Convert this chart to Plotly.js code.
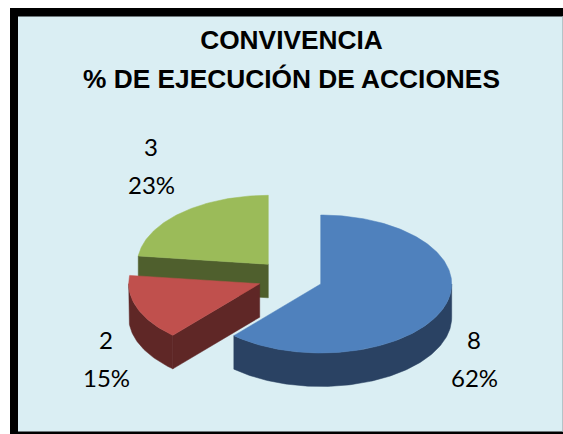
<!DOCTYPE html>
<html>
<head>
<meta charset="utf-8">
<script src="https://cdn.plot.ly/plotly-3.0.1.min.js"></script>
<style>html,body{margin:0;padding:0;background:#fff;overflow:hidden}#chart{width:563px;height:434px}</style>
</head>
<body>
<div id="chart"></div>
<script>
// Data
const categories = ["8", "2", "3"];
const values = [8, 2, 3];
const titleLines = ["CONVIVENCIA", "% DE EJECUCIÓN DE ACCIONES"];

// Styles
const topColors = ["#4F81BD", "#C0504D", "#9BBB59"];
const sideColors = ["#2A4263", "#5F2726", "#4F5F2D"];

// Layout geometry of the tilted pie, in the hidden axes' units
const RX = 131, RY = 69, DEPTH = 33.5;
const centers = [[320.7, 284], [259.7, 283.7], [268.3, 264.3]];
const labelPos = [[474, 339.5, 377.5], [106, 339.5, 377.5], [151, 146.5, 184.5]];
const drawOrder = [2, 1, 0];

const total = values.reduce((a, b) => a + b, 0);
let acc = 0;
const spans = values.map(v => { const s = acc; acc += v / total * 360; return [s, acc]; });

function pt(c, deg, dy) {
  const r = deg * Math.PI / 180;
  return [c[0] + RX * Math.sin(r), c[1] - RY * Math.cos(r) + (dy || 0)];
}
function arc(c, a, b, dy) {
  const out = [];
  const n = Math.max(2, Math.ceil(Math.abs(b - a)));
  for (let i = 0; i <= n; i++) out.push(pt(c, a + (b - a) * i / n, dy));
  return out;
}
function poly(points, color, name) {
  const closed = points.concat([points[0]]);
  return {
    type: "scatter", mode: "lines", name: name,
    x: closed.map(p => p[0]), y: closed.map(p => p[1]),
    fill: "toself", fillcolor: color,
    line: { color: color, width: 0.5 }, hoverinfo: "name", showlegend: false
  };
}

const traces = [];
drawOrder.forEach(i => {
  const c = centers[i];
  const [a, b] = spans[i];
  // outer wall: the part of the rim that faces the viewer (90..270 degrees)
  const from = Math.max(a, 90), to = Math.min(b, 270);
  if (to > from) {
    traces.push(poly(arc(c, from, to, 0).concat(arc(c, to, from, DEPTH)), sideColors[i], categories[i] + " rim"));
  }
  // cut wall: the radial edge that faces the viewer on the two pulled-out slices
  if (i === 1 || i === 2) {
    const e = pt(c, a);
    traces.push(poly([c, e, [e[0], e[1] + DEPTH], [c[0], c[1] + DEPTH]], sideColors[i], categories[i] + " cut"));
  }
  traces.push(poly([c].concat(arc(c, a, b, 0)), topColors[i], categories[i]));
});

const textAnn = (x, y, text, size, font, bold) => ({
  xref: "x", yref: "y", x: x, y: y, xanchor: "center", yanchor: "middle",
  showarrow: false, text: bold ? "<b>" + text + "</b>" : text,
  font: { family: font, size: size, color: "#000" }
});

const annotations = [textAnn(291, 79, titleLines[1], 26.3, "Liberation Sans", true)];
values.forEach((v, i) => {
  const [x, y1, y2] = labelPos[i];
  annotations.push(textAnn(x, y1, categories[i], 24, "Lato", false));
  annotations.push(textAnn(x, y2, Math.round(v / total * 100) + "%", 24, "Lato", false));
});

const layout = {
  width: 563, height: 434,
  margin: { l: 0, r: 0, t: 0, b: 0 },
  paper_bgcolor: "#ffffff", plot_bgcolor: "rgba(0,0,0,0)",
  showlegend: false,
  title: {
    text: "<b>" + titleLines[0] + "</b>",
    x: 291.5 / 563, xanchor: "center", xref: "paper",
    y: 1 - 40 / 434, yanchor: "middle", yref: "paper",
    font: { family: "Liberation Sans", size: 26.3, color: "#000" }
  },
  xaxis: { range: [0, 563], visible: false, fixedrange: true },
  yaxis: { range: [434, 0], visible: false, fixedrange: true },
  shapes: [
    { type: "rect", layer: "below", xref: "x", yref: "y", x0: 10, y0: 8, x1: 563, y1: 434, fillcolor: "#000", line: { width: 0 } },
    { type: "rect", layer: "below", xref: "x", yref: "y", x0: 18, y0: 16.5, x1: 563, y1: 431.5, fillcolor: "#DAEEF3", line: { width: 0 } },
    { type: "rect", layer: "below", xref: "x", yref: "y", x0: 562, y0: 16.5, x1: 563, y1: 431.5, fillcolor: "#B4C4C8", line: { width: 0 } }
  ],
  annotations: annotations
};

Plotly.newPlot("chart", traces, layout, { displayModeBar: false, staticPlot: true });
</script>
</body>
</html>
